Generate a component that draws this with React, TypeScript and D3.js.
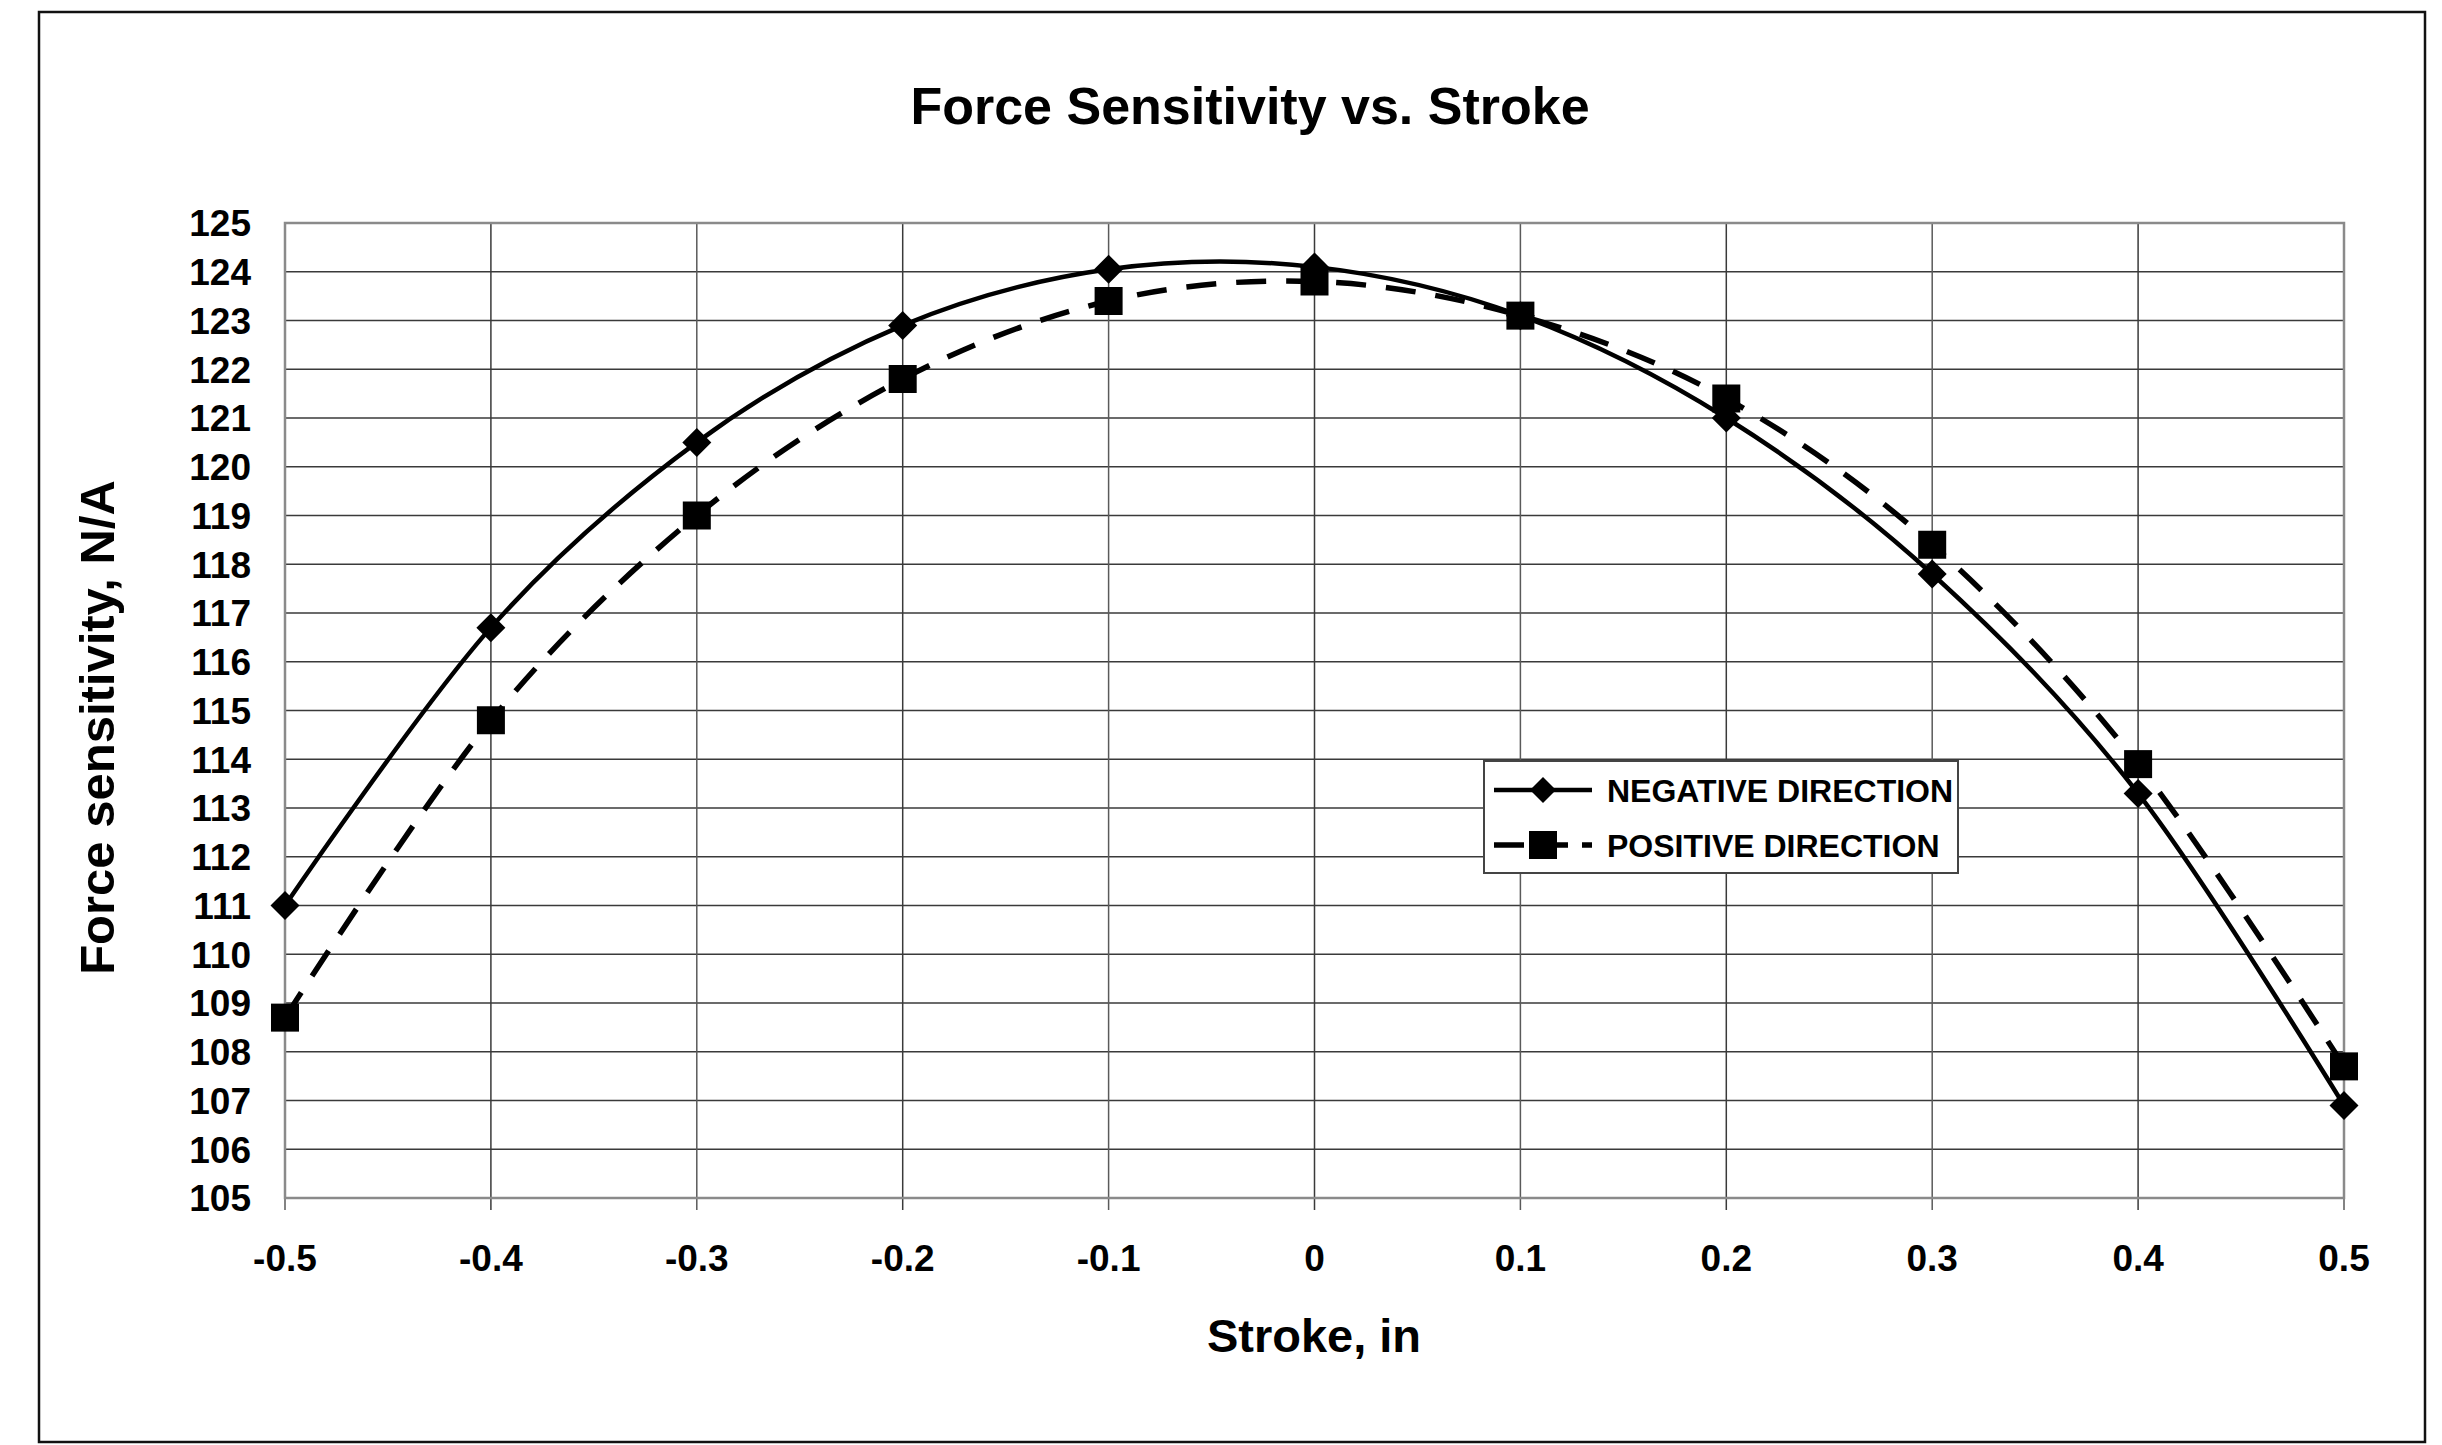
import React, { useEffect, useRef } from "react";
import * as d3 from "d3";

// ─── Data ─────────────────────────────────────────────────────────────────────
const STROKE = [-0.5, -0.4, -0.3, -0.2, -0.1, 0, 0.1, 0.2, 0.3, 0.4, 0.5];
const NEGATIVE = [111.0, 116.7, 120.5, 122.9, 124.05, 124.1, 123.1, 121.0, 117.8, 113.3, 106.9];
const POSITIVE = [108.7, 114.8, 119.0, 121.8, 123.4, 123.8, 123.1, 121.4, 118.4, 113.9, 107.7];
const X_TICKS = [-0.5, -0.4, -0.3, -0.2, -0.1, 0, 0.1, 0.2, 0.3, 0.4, 0.5];
const Y_TICKS = d3.range(105, 126, 1);
const SERIES_NAMES = ["NEGATIVE DIRECTION", "POSITIVE DIRECTION"];

// ─── Layout ───────────────────────────────────────────────────────────────────
const W = 2442;
const H = 1445;
const PLOT = { left: 285, right: 2344, top: 223, bottom: 1198 };
const FONT = "'Liberation Sans', Arial, sans-serif";
const GRID = "#3a3a3a";
const FRAME = "#8a8a8a";

export default function App() {
  const svgRef = useRef<SVGSVGElement>(null);

  useEffect(() => {
    const node = svgRef.current;
    if (!node) return;
    const svg = d3.select(node);
    svg.selectAll("*").remove();

    svg.append("rect").attr("width", W).attr("height", H).attr("fill", "#fff");

    // outer chart border
    svg
      .append("rect")
      .attr("x", 39)
      .attr("y", 12)
      .attr("width", 2386)
      .attr("height", 1430)
      .attr("fill", "none")
      .attr("stroke", "#111")
      .attr("stroke-width", 2.5);

    const x = d3.scaleLinear().domain([-0.5, 0.5]).range([PLOT.left, PLOT.right]);
    const y = d3.scaleLinear().domain([105, 125]).range([PLOT.bottom, PLOT.top]);

    // ── Grid ──────────────────────────────────────────────────────────────
    svg
      .append("g")
      .selectAll("line")
      .data(Y_TICKS)
      .join("line")
      .attr("x1", PLOT.left)
      .attr("x2", PLOT.right)
      .attr("y1", (d) => y(d))
      .attr("y2", (d) => y(d))
      .attr("stroke", GRID)
      .attr("stroke-width", 1.5);

    svg
      .append("g")
      .selectAll("line")
      .data(X_TICKS)
      .join("line")
      .attr("x1", (d) => x(d))
      .attr("x2", (d) => x(d))
      .attr("y1", PLOT.top)
      .attr("y2", PLOT.bottom + 12)
      .attr("stroke", (d, i) => (i % 2 === 0 ? "#5a5a5a" : GRID))
      .attr("stroke-width", 1.5);

    // plot frame
    svg
      .append("rect")
      .attr("x", PLOT.left)
      .attr("y", PLOT.top)
      .attr("width", PLOT.right - PLOT.left)
      .attr("height", PLOT.bottom - PLOT.top)
      .attr("fill", "none")
      .attr("stroke", FRAME)
      .attr("stroke-width", 2.5);

    // ── Tick labels ───────────────────────────────────────────────────────
    svg
      .append("g")
      .selectAll("text")
      .data(Y_TICKS)
      .join("text")
      .attr("x", 251)
      .attr("y", (d) => y(d))
      .attr("dy", "0.36em")
      .attr("text-anchor", "end")
      .attr("font-family", FONT)
      .attr("font-weight", "bold")
      .attr("font-size", 37)
      .text((d) => String(d));

    svg
      .append("g")
      .selectAll("text")
      .data(X_TICKS)
      .join("text")
      .attr("x", (d) => x(d))
      .attr("y", 1271)
      .attr("text-anchor", "middle")
      .attr("font-family", FONT)
      .attr("font-weight", "bold")
      .attr("font-size", 37)
      .text((d) => String(d));

    // ── Titles ────────────────────────────────────────────────────────────
    svg
      .append("text")
      .attr("x", 1250)
      .attr("y", 124)
      .attr("text-anchor", "middle")
      .attr("font-family", FONT)
      .attr("font-weight", "bold")
      .attr("font-size", 52)
      .text("Force Sensitivity vs. Stroke");

    svg
      .append("text")
      .attr("x", 1314)
      .attr("y", 1352)
      .attr("text-anchor", "middle")
      .attr("font-family", FONT)
      .attr("font-weight", "bold")
      .attr("font-size", 47)
      .text("Stroke, in");

    svg
      .append("text")
      .attr("transform", `translate(114,${(PLOT.top + PLOT.bottom) / 2 + 17}) rotate(-90)`)
      .attr("text-anchor", "middle")
      .attr("font-family", FONT)
      .attr("font-weight", "bold")
      .attr("font-size", 49)
      .text("Force sensitivity, N/A");

    // ── Series ────────────────────────────────────────────────────────────
    const line = d3
      .line<[number, number]>()
      .x((d) => x(d[0]))
      .y((d) => y(d[1]))
      .curve(d3.curveCatmullRom.alpha(0));

    const neg: [number, number][] = STROKE.map((s, i) => [s, NEGATIVE[i]]);
    const pos: [number, number][] = STROKE.map((s, i) => [s, POSITIVE[i]]);

    svg
      .append("path")
      .datum(pos)
      .attr("d", line)
      .attr("fill", "none")
      .attr("stroke", "#000")
      .attr("stroke-width", 5.5)
      .attr("stroke-dasharray", "30,20");

    svg
      .append("path")
      .datum(neg)
      .attr("d", line)
      .attr("fill", "none")
      .attr("stroke", "#000")
      .attr("stroke-width", 4.5);

    const diamond = (cx: number, cy: number, r: number) =>
      `M${cx},${cy - r}L${cx + r},${cy}L${cx},${cy + r}L${cx - r},${cy}Z`;

    svg
      .append("g")
      .selectAll("path")
      .data(neg)
      .join("path")
      .attr("d", (d) => diamond(x(d[0]), y(d[1]), 14.5))
      .attr("fill", "#000");

    svg
      .append("g")
      .selectAll("rect")
      .data(pos)
      .join("rect")
      .attr("x", (d) => x(d[0]) - 14)
      .attr("y", (d) => y(d[1]) - 14)
      .attr("width", 28)
      .attr("height", 28)
      .attr("fill", "#000");

    // ── Legend ────────────────────────────────────────────────────────────
    const lg = svg.append("g").attr("transform", "translate(1484,761)");
    lg.append("rect")
      .attr("width", 474)
      .attr("height", 112)
      .attr("fill", "#fff")
      .attr("stroke", "#444")
      .attr("stroke-width", 2);

    SERIES_NAMES.forEach((name, i) => {
      const cy = 29 + i * 55;
      const row = lg.append("g");
      row
        .append("line")
        .attr("x1", 10)
        .attr("x2", 108)
        .attr("y1", cy)
        .attr("y2", cy)
        .attr("stroke", "#000")
        .attr("stroke-width", i === 0 ? 4.5 : 5.5)
        .attr("stroke-dasharray", i === 0 ? null : "30,14");
      if (i === 0) {
        row.append("path").attr("d", diamond(59, cy, 13)).attr("fill", "#000");
      } else {
        row
          .append("rect")
          .attr("x", 45)
          .attr("y", cy - 14)
          .attr("width", 28)
          .attr("height", 28)
          .attr("fill", "#000");
      }
      row
        .append("text")
        .attr("x", 123)
        .attr("y", cy)
        .attr("dy", "0.36em")
        .attr("font-family", FONT)
        .attr("font-weight", "bold")
        .attr("font-size", 32)
        .text(name);
    });
  }, []);

  return (
    <div style={{ position: "absolute", left: 0, top: 0 }}>
      <svg ref={svgRef} width={W} height={H} style={{ display: "block" }} />
    </div>
  );
}
